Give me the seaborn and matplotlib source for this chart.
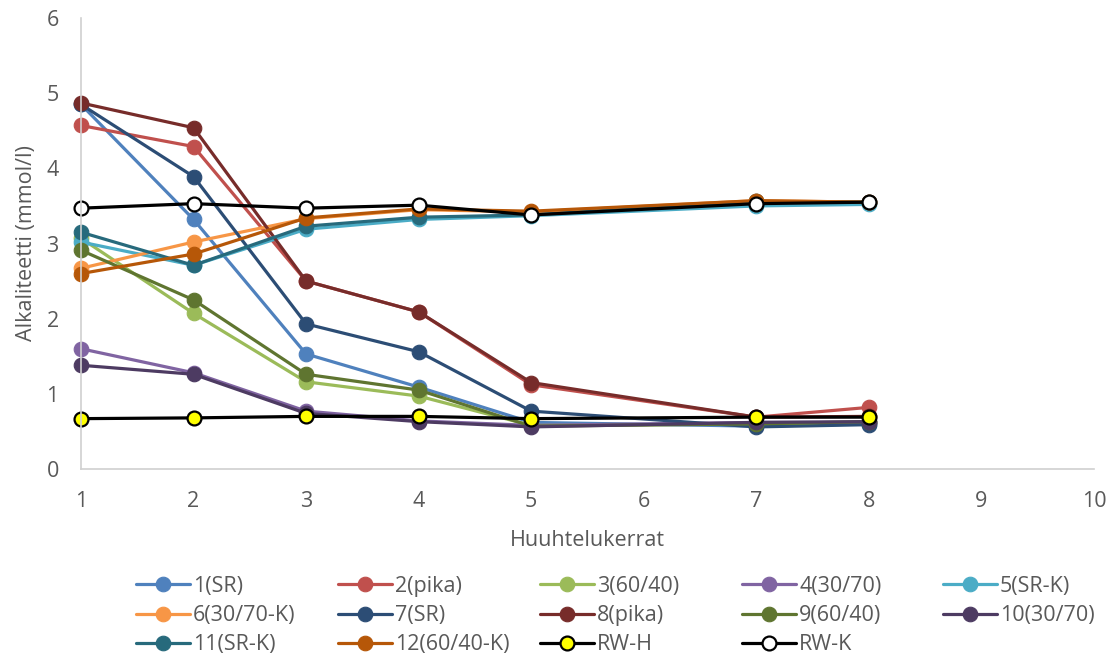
import matplotlib
matplotlib.use("Agg")
import matplotlib.pyplot as plt
import seaborn as sns

sns.set_theme(style="white")
plt.rcParams['font.family'] = ['Open Sans', 'DejaVu Sans']

x_vals = [1, 2, 3, 4, 5, 7, 8]
series_names = ["1(SR)", "2(pika)", "3(60/40)", "4(30/70)", "5(SR-K)",
                "6(30/70-K)", "7(SR)", "8(pika)", "9(60/40)", "10(30/70)",
                "11(SR-K)", "12(60/40-K)", "RW-H", "RW-K"]
s1 = [4.85, 3.32, 1.53, 1.09, 0.62, 0.57, 0.60]
s2 = [4.57, 4.29, 2.50, 2.09, 1.12, 0.69, 0.82]
s3 = [3.07, 2.07, 1.16, 0.97, 0.58, 0.60, 0.62]
s4 = [1.60, 1.28, 0.77, 0.64, 0.58, 0.62, 0.62]
s5 = [3.02, 2.71, 3.19, 3.32, 3.37, 3.50, 3.52]
s6 = [2.67, 3.02, 3.33, 3.45, 3.42, 3.57, 3.55]
s7 = [4.85, 3.89, 1.93, 1.56, 0.77, 0.56, 0.59]
s8 = [4.87, 4.54, 2.50, 2.09, 1.15, 0.69, 0.70]
s9 = [2.91, 2.25, 1.26, 1.05, 0.57, 0.60, 0.63]
s10 = [1.38, 1.26, 0.74, 0.63, 0.56, 0.62, 0.63]
s11 = [3.15, 2.71, 3.23, 3.35, 3.38, 3.56, 3.55]
s12 = [2.60, 2.86, 3.34, 3.46, 3.43, 3.57, 3.55]
rw_h = [0.67, 0.68, 0.70, 0.70, 0.67, 0.69, 0.69]
rw_k = [3.47, 3.53, 3.47, 3.51, 3.38, 3.53, 3.55]
all_series = [s1, s2, s3, s4, s5, s6, s7, s8, s9, s10, s11, s12, rw_h, rw_k]

colors = ["#4F81BD", "#C0504D", "#9BBB59", "#8064A2", "#4BACC6", "#F79646",
          "#2C4D75", "#772C2A", "#5F7530", "#4D3B62", "#276A7C", "#B65708",
          "#000000", "#000000"]
face = colors[:12] + ["#FFFF00", "#FFFFFF"]

fig = plt.figure(figsize=(11.16, 6.59), dpi=100)
ax = fig.add_axes([81/1116, 1-469/659, (1094-81)/1116, (469-18)/659])

for name, vals, c, fc in zip(series_names, all_series, colors, face):
    is_rw = name.startswith("RW")
    sns.lineplot(x=x_vals, y=vals, ax=ax, color=c, linewidth=2.3,
                 marker='o', markersize=10.5 if not is_rw else 10,
                 markerfacecolor=fc, markeredgecolor=c,
                 markeredgewidth=1.6 if is_rw else 0.8,
                 label=name, clip_on=False)

ax.set_xlim(1, 10)
ax.set_ylim(0, 6)
ax.set_xticks(range(1, 11))
ax.set_yticks(range(0, 7))
txt = "#595959"
fs = 15.5
ax.tick_params(axis='both', length=0, labelsize=fs, colors=txt)
ax.tick_params(axis='x', pad=16)
ax.tick_params(axis='y', pad=16)
for s in ["top", "right"]:
    ax.spines[s].set_visible(False)
for s in ["left", "bottom"]:
    ax.spines[s].set_color("#D0D0D0")
    ax.spines[s].set_linewidth(1.2)

ax.set_xlabel("Huuhtelukerrat", fontsize=fs, color=txt)
ax.set_ylabel("Alkaliteetti (mmol/l)", fontsize=fs, color=txt)
ax.xaxis.set_label_coords(0.5, -0.135)
ax.yaxis.set_label_coords(-0.043, 0.5)

handles, labels = ax.get_legend_handles_labels()
ax.get_legend().remove()

col_x = [136, 338, 540, 742, 943]
for ci in range(5):
    idx = [ci + 5 * r for r in range(3) if ci + 5 * r < len(handles)]
    leg = fig.legend([handles[i] for i in idx], [labels[i] for i in idx],
                     loc='upper left', bbox_to_anchor=(col_x[ci]/1116, 1-576/659),
                     frameon=False, fontsize=fs, handlelength=2.5,
                     handletextpad=0.15, labelspacing=0.38, borderpad=0,
                     borderaxespad=0)
    for t in leg.get_texts():
        t.set_color(txt)

fig.savefig("out.png", dpi=100)
